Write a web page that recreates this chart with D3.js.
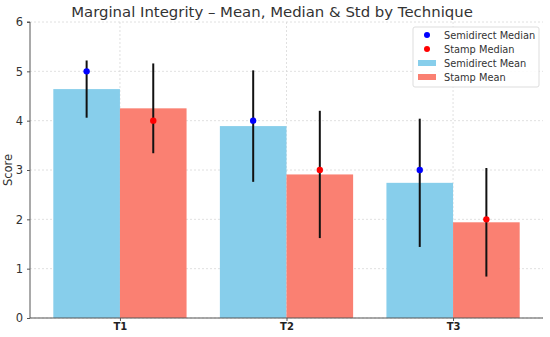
<!DOCTYPE html>
<html><head><meta charset="utf-8">
<script src="https://cdn.jsdelivr.net/npm/d3@7"></script>
<style>body{margin:0;background:#fff}svg{display:block}text{font-family:"DejaVu Sans",sans-serif}</style>
</head><body><svg id="c" width="550" height="337"></svg>
<script>
const categories = ["T1", "T2", "T3"];
const semidirectMean = [4.64, 3.89, 2.74];
const semidirectStd = [0.58, 1.13, 1.30];
const semidirectMedian = [5, 4, 3];
const stampMean = [4.25, 2.91, 1.94];
const stampStd = [0.91, 1.29, 1.10];
const stampMedian = [4, 3, 2];
const yTicks = [0, 1, 2, 3, 4, 5, 6];

const svg = d3.select("#c");
const L = 30, R = 543, T = 22, B = 318;
const x = d3.scaleLinear().domain([-0.54, 2.54]).range([L, R]);
const y = d3.scaleLinear().domain([0, 6]).range([B, T]);
const bw = 0.4;

// grid
const g = svg.append("g");
g.selectAll(".hg").data(yTicks).join("line")
  .attr("x1", L).attr("x2", R).attr("y1", d => y(d)).attr("y2", d => y(d))
  .attr("stroke", "#d8d8d8").attr("stroke-width", 0.8).attr("stroke-dasharray", "2,2");
g.selectAll(".vg").data(categories).join("line")
  .attr("x1", (d, i) => x(i)).attr("x2", (d, i) => x(i)).attr("y1", T).attr("y2", B)
  .attr("stroke", "#d8d8d8").attr("stroke-width", 0.8).attr("stroke-dasharray", "2,2");

const series = [
  {mean: semidirectMean, std: semidirectStd, med: semidirectMedian, off: -bw/2, fill: "#87CEEB", dot: "blue"},
  {mean: stampMean, std: stampStd, med: stampMedian, off: bw/2, fill: "#FA8072", dot: "red"}
];
series.forEach(s => {
  svg.append("g").selectAll("rect").data(s.mean).join("rect")
    .attr("x", (d, i) => x(i + s.off - bw/2)).attr("width", x(bw) - x(0))
    .attr("y", d => y(d)).attr("height", d => y(0) - y(d)).attr("fill", s.fill);
});
series.forEach(s => {
  svg.append("g").selectAll("line").data(s.mean).join("line")
    .attr("x1", (d, i) => x(i + s.off)).attr("x2", (d, i) => x(i + s.off))
    .attr("y1", (d, i) => y(d - s.std[i])).attr("y2", (d, i) => y(d + s.std[i]))
    .attr("stroke", "#111").attr("stroke-width", 2);
  svg.append("g").selectAll("circle").data(s.med).join("circle")
    .attr("cx", (d, i) => x(i + s.off)).attr("cy", d => y(d)).attr("r", 3.2).attr("fill", s.dot);
});

// axes
const ya = svg.append("g").attr("transform", `translate(${L},0)`)
  .call(d3.axisLeft(y).tickValues(yTicks).tickSize(3).tickPadding(4).tickFormat(d3.format("d")));
ya.select(".domain").attr("stroke", "#555").attr("d", `M-3,${T}H0V${B}`);
ya.selectAll(".tick line").attr("stroke", "#555");
ya.selectAll("text").attr("font-size", 11.5).attr("fill", "#333");
const xa = svg.append("g").attr("transform", `translate(0,${B})`)
  .call(d3.axisBottom(x).tickValues([0, 1, 2]).tickSize(3).tickPadding(2).tickFormat(i => categories[i]));
xa.select(".domain").attr("stroke", "#555").attr("d", `M${L},0H${R}`);
xa.selectAll(".tick line").attr("stroke", "#555");
xa.selectAll("text").attr("font-size", 10).attr("font-weight", "bold").attr("fill", "#222");

svg.append("text").attr("x", 272).attr("y", 17).attr("text-anchor", "middle")
  .attr("font-size", 14.9).attr("fill", "#333").text("Marginal Integrity – Mean, Median & Std by Technique");
svg.append("text").attr("transform", "translate(12,170) rotate(-90)").attr("text-anchor", "middle")
  .attr("font-size", 11.5).attr("fill", "#333").text("Score");

// legend
const lg = svg.append("g");
lg.append("rect").attr("x", 413).attr("y", 27).attr("width", 126).attr("height", 60).attr("rx", 2)
  .attr("fill", "#fff").attr("fill-opacity", 0.85).attr("stroke", "#ddd");
const items = [
  {t: "Semidirect Median", type: "dot", c: "blue"},
  {t: "Stamp Median", type: "dot", c: "red"},
  {t: "Semidirect Mean", type: "rect", c: "#87CEEB"},
  {t: "Stamp Mean", type: "rect", c: "#FA8072"}
];
items.forEach((it, i) => {
  const cy = 35 + i * 14;
  if (it.type === "dot") lg.append("circle").attr("cx", 427).attr("cy", cy).attr("r", 3).attr("fill", it.c);
  else lg.append("rect").attr("x", 418).attr("y", cy - 3).attr("width", 18).attr("height", 6).attr("fill", it.c);
  lg.append("text").attr("x", 444).attr("y", cy + 3.5).attr("font-size", 9.8).attr("fill", "#333").text(it.t);
});
</script></body></html>
